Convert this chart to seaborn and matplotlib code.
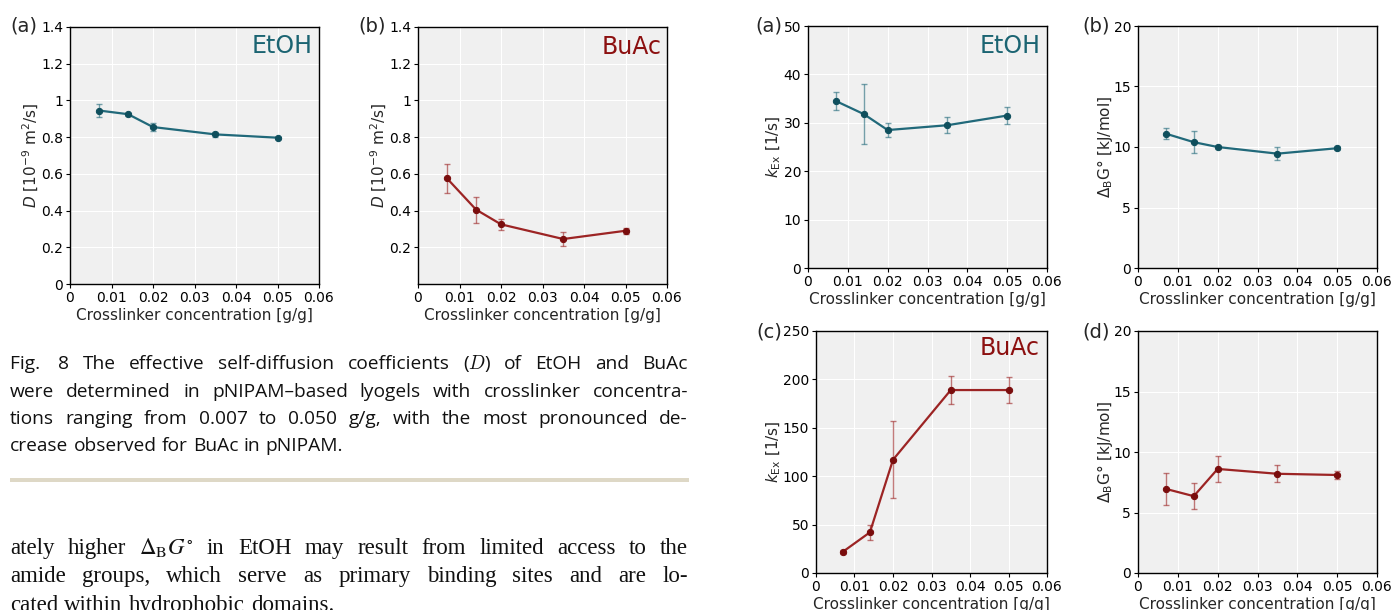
import numpy as np
import pandas as pd
import matplotlib
matplotlib.use("Agg")
import matplotlib.pyplot as plt
import seaborn as sns

# crosslinker concentrations [g/g]
conc = [0.007, 0.014, 0.020, 0.035, 0.050]

# self-diffusion coefficients D [1e-9 m2/s]
d_etoh = [0.945, 0.925, 0.855, 0.815, 0.797]
d_etoh_err = [0.035, 0.008, 0.022, 0.015, 0.006]
d_buac = [0.575, 0.405, 0.325, 0.245, 0.290]
d_buac_err = [0.080, 0.070, 0.030, 0.040, 0.015]

# exchange rates kEx [1/s]
k_etoh = [34.5, 31.8, 28.5, 29.5, 31.5]
k_etoh_err = [1.8, 6.2, 1.5, 1.6, 1.7]
k_buac = [22, 42, 117, 189, 189]
k_buac_err = [2, 7.5, 40, 14, 13]

# binding free energy dG [kJ/mol]
g_etoh = [11.1, 10.4, 10.0, 9.45, 9.9]
g_etoh_err = [0.45, 0.9, 0.15, 0.55, 0.15]
g_buac = [6.95, 6.35, 8.6, 8.2, 8.1]
g_buac_err = [1.35, 1.05, 1.1, 0.7, 0.35]

xticks = [0, 0.01, 0.02, 0.03, 0.04, 0.05, 0.06]
xticklabels = ["0", "0.01", "0.02", "0.03", "0.04", "0.05", "0.06"]

caption_lines = [
    ["Fig. ", "8", "The", "effective", "self-diffusion", "coefficients", "($D$)", "of", "EtOH", "and", "BuAc"],
    ["were", "determined", "in", "pNIPAM–based", "lyogels", "with", "crosslinker", "concentra-"],
    ["tions", "ranging", "from", "0.007", "to", "0.050", "g/g,", "with", "the", "most", "pronounced", "de-"],
    ["crease", "observed", "for", "BuAc", "in", "pNIPAM."],
]
body_lines = [
    ["ately", "higher", r"$\Delta_{\mathrm{B}}G^{\circ}$", "in", "EtOH", "may", "result", "from", "limited", "access", "to", "the"],
    ["amide", "groups,", "which", "serve", "as", "primary", "binding", "sites", "and", "are", "lo-"],
    ["cated", "within", "hydrophobic", "domains."],
]

TEAL = "#21697a"
TEAL_DARK = "#0f4f5d"
TEAL_TXT = "#1b6472"
RED = "#9c2424"
RED_DARK = "#7a0d0d"
RED_TXT = "#8c1010"

sns.set_style("darkgrid", {"axes.facecolor": "#f0f0f0", "grid.color": "white",
                           "axes.edgecolor": "black", "xtick.bottom": True, "ytick.left": True})
plt.rcParams["font.family"] = ["DejaVu Sans"]
plt.rcParams["xtick.major.size"] = 3
plt.rcParams["ytick.major.size"] = 3
plt.rcParams["xtick.major.width"] = 0.8
plt.rcParams["ytick.major.width"] = 0.8
plt.rcParams["xtick.color"] = "black"
plt.rcParams["ytick.color"] = "black"
plt.rcParams["grid.linewidth"] = 0.8

W, H = 1392, 610
fig = plt.figure(figsize=(W / 100, H / 100), dpi=100)
fig.patch.set_facecolor("white")


def box(l, t, r, b):
    return [l / W, 1 - b / H, (r - l) / W, (b - t) / H]


def panel(rect, y, yerr, color, dark, ylim, yticks, ylabel, ylab_x):
    ax = fig.add_axes(box(*rect))
    df = pd.DataFrame({"x": conc, "y": y})
    ax.errorbar(conc, y, yerr=yerr, fmt="none", ecolor=color, elinewidth=1.0,
                capsize=2.2, capthick=1.0, alpha=0.6, zorder=2)
    sns.lineplot(data=df, x="x", y="y", ax=ax, color=color, linewidth=1.6,
                 marker="o", markersize=4.5, markerfacecolor=dark,
                 markeredgecolor=dark, zorder=3)
    ax.set_xlim(0, 0.06)
    ax.set_xticks(xticks)
    ax.set_xticklabels(xticklabels)
    ax.set_ylim(*ylim)
    ax.set_yticks(yticks)
    ax.set_yticklabels([("%g" % v) for v in yticks])
    ax.tick_params(labelsize=10, pad=2)
    ax.set_xlabel("Crosslinker concentration [g/g]", fontsize=11, labelpad=2)
    ax.set_ylabel(ylabel, fontsize=11, va="center")
    # place the y label centre at a given pixel column
    ax.yaxis.set_label_coords(-(rect[0] - ylab_x) / (rect[2] - rect[0]), 0.5)
    for s in ax.spines.values():
        s.set_linewidth(1.0)
        s.set_color("black")
    return ax


def ptext(x, y, s, **kw):
    return fig.text(x / W, 1 - y / H, s, va="baseline", **kw)


d_label = r"$D$ [10$^{-9}$ m$^2$/s]"
k_label = r"$k_{\mathrm{Ex}}$ [1/s]"
g_label = r"$\Delta_{\mathrm{B}}$G° [kJ/mol]"

a1 = panel((70, 27, 319, 284), d_etoh, d_etoh_err, TEAL, TEAL_DARK, (0, 1.4),
           [0, 0.2, 0.4, 0.6, 0.8, 1.0, 1.2, 1.4], d_label, 31)
a2 = panel((418, 27, 667, 284), d_buac, d_buac_err, RED, RED_DARK, (0, 1.4),
           [0.2, 0.4, 0.6, 0.8, 1.0, 1.2, 1.4], d_label, 379)
b1 = panel((808, 26, 1047, 268), k_etoh, k_etoh_err, TEAL, TEAL_DARK, (0, 50),
           [0, 10, 20, 30, 40, 50], k_label, 774)
b2 = panel((1138, 26, 1377, 268), g_etoh, g_etoh_err, TEAL, TEAL_DARK, (0, 20),
           [0, 5, 10, 15, 20], g_label, 1105)
b3 = panel((816, 331, 1047, 573), k_buac, k_buac_err, RED, RED_DARK, (0, 250),
           [0, 50, 100, 150, 200, 250], k_label, 774)
b4 = panel((1138, 331, 1377, 573), g_buac, g_buac_err, RED, RED_DARK, (0, 20),
           [0, 5, 10, 15, 20], g_label, 1105)

a1.text(0.975, 0.898, "EtOH", transform=a1.transAxes, ha="right", va="baseline",
        fontsize=17, color=TEAL_TXT)
a2.text(0.98, 0.893, "BuAc", transform=a2.transAxes, ha="right", va="baseline",
        fontsize=17, color=RED_TXT)
b1.text(0.972, 0.888, "EtOH", transform=b1.transAxes, ha="right", va="baseline",
        fontsize=17, color=TEAL_TXT)
b3.text(0.97, 0.9, "BuAc", transform=b3.transAxes, ha="right", va="baseline",
        fontsize=17, color=RED_TXT)

for x, y, s in [(10, 32, "(a)"), (358, 32, "(b)"), (755, 31, "(a)"),
                (1082, 31, "(b)"), (756, 337, "(c)"), (1082, 338, "(d)")]:
    ptext(x, y, s, fontsize=14)


def put_line(words, y, x0, x1, justify, size, **kw):
    r = fig.canvas.get_renderer()
    ts = [ptext(0, y, w, fontsize=size, **kw) for w in words]
    ws = [t.get_window_extent(r).width for t in ts]
    if justify:
        gap = (x1 - x0 - sum(ws)) / (len(ws) - 1)
    else:
        gap = size * 100 / 72 * 0.27
    x = x0
    for t, w in zip(ts, ws):
        t.set_x(x / W)
        x += w + gap


cap_base = [369, 397, 424, 451]
for i, (words, yb) in enumerate(zip(caption_lines, cap_base)):
    put_line(words, yb, 10, 688, i < len(caption_lines) - 1, 13.8,
             family="Open Sans", math_fontfamily="cm", color="#111111")

body_base = [554, 582, 611]
for i, (words, yb) in enumerate(zip(body_lines, body_base)):
    put_line(words, yb, 10, 688, i < len(body_lines) - 1, 16.5,
             family="Liberation Serif", math_fontfamily="stix", color="#111111")

# separator rule
fig.add_artist(plt.Rectangle((10 / W, 1 - 482 / H), 679 / W, 4 / H,
                             transform=fig.transFigure, color="#ded8c6", lw=0))

fig.savefig("out.png", dpi=100)
